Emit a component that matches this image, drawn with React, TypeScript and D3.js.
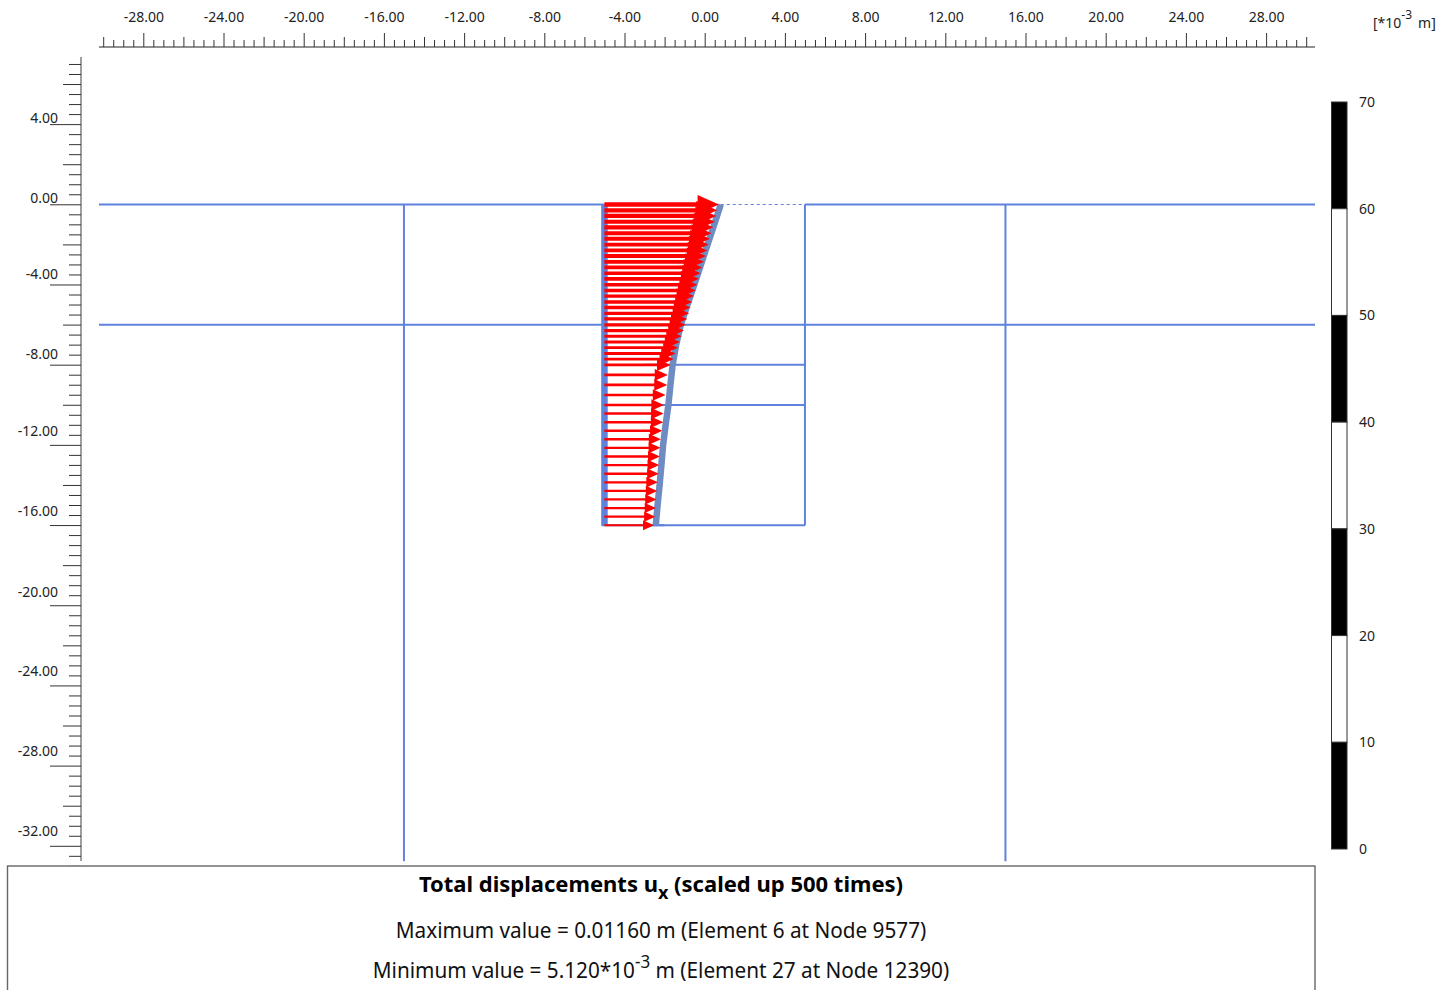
import React from "react";
import * as d3 from "d3";

const topTickLabels = [-28, -24, -20, -16, -12, -8, -4, 0, 4, 8, 12, 16, 20, 24, 28];
const leftTickLabels = [4, 0, -4, -8, -12, -16, -20, -24, -28, -32];
const leftLabelLift = [7, 7, 11, 11, 14, 15, 14, 15, 15, 15];
const legendValues = [70, 60, 50, 40, 30, 20, 10, 0];

const arrowDepth = [
  0, -0.29, -0.57, -0.86, -1.14, -1.43, -1.71, -2.0, -2.29, -2.57, -2.86, -3.14, -3.43, -3.71, -4.0,
  -4.29, -4.57, -4.86, -5.14, -5.43, -5.71, -6.0, -6.29, -6.57, -6.86, -7.14, -7.43, -7.71, -8.0,
  -8.5, -9.0, -9.5, -10.0, -10.43, -10.86, -11.29, -11.71, -12.14, -12.57, -13.0, -13.43, -13.86,
  -14.29, -14.71, -15.14, -15.57, -16.0,
];
const arrowUx = [
  11.37, 11.2, 11.1, 10.97, 10.8, 10.64, 10.47, 10.34, 10.2, 10.07, 9.87, 9.71, 9.54, 9.38, 9.21,
  9.04, 8.87, 8.71, 8.54, 8.41, 8.21, 8.05, 7.88, 7.65, 7.48, 7.28, 7.05, 6.85, 6.55,
  6.28, 6.22, 6.05, 5.88, 5.85, 5.82, 5.72, 5.58, 5.55, 5.48, 5.42, 5.38, 5.28, 5.22, 5.15, 5.09, 5.02, 4.89,
];
const wallDepth = [0, -1, -2, -3, -4, -5, -6, -7, -8, -9, -10, -11, -12, -13, -14, -15, -16];
const wallUx = [11.6, 10.95, 10.28, 9.62, 8.96, 8.28, 7.62, 7.15, 6.8, 6.58, 6.38, 6.1, 5.85, 5.68, 5.5, 5.3, 5.12];

const layerDepths = [0, -6];
const strutDepths = [-8, -10, -16];
const boundaryX = [-15, 15];
const wallX = [-5, 5];
const wallToe = -16;
const scaleUp = 0.5; // 10^-3 m × 500, in metres of drawing

const FONT = "'Noto Sans', 'DejaVu Sans', sans-serif";
const BLUE = "#5f82dc";

export default function App() {
  const x = d3.scaleLinear().domain([-30, 30]).range([103.7, 1306.7]);
  const y = d3.scaleLinear().domain([0, -32]).range([204.8, 846.3]);
  const legend = d3.scaleLinear().domain([0, 70]).range([849, 102]);

  const wallPath = d3
    .line<number>()
    .x((u) => x(wallX[0] + u * scaleUp))
    .y((_, i) => y(wallDepth[i]))(wallUx) as string;

  const xTicks = d3.range(-30, 30.01, 0.5);
  const yTicks = d3.range(7, -33.01, -0.5);
  const gridTop = y(0);
  const gridBottom = 861.5;
  const x0 = x(wallX[0]) - 0.6;

  const arrows = arrowUx.map((u, i) => {
    const tip = x(wallX[0] + u * scaleUp);
    const len = tip - x0;
    const py = y(arrowDepth[i]) - 0.3;
    const headLen = 3 + len * 0.16;
    const headHalf = 1.5 + len * 0.07;
    const shaftHalf = 0.3 + len * 0.016;
    const d = [
      [x0, py - shaftHalf],
      [tip - headLen, py - shaftHalf],
      [tip - headLen, py - headHalf],
      [tip, py],
      [tip - headLen, py + headHalf],
      [tip - headLen, py + shaftHalf],
      [x0, py + shaftHalf],
    ];
    return d3.line()(d as [number, number][]) + "Z";
  });

  const legendBands = legendValues.slice(0, -1).map((v, i) => ({
    top: v,
    bottom: legendValues[i + 1],
    fill: i % 2 === 0 ? "#000" : "#fff",
  }));

  return (
    <svg
      width={1443}
      height={990}
      style={{ position: "absolute", left: 0, top: 0, display: "block", fontFamily: FONT }}
    >
      <rect width={1443} height={990} fill="#fff" />

      {/* top axis */}
      <line x1={99} x2={1315} y1={47} y2={47} stroke="#222" strokeWidth={1.2} />
      {xTicks.map((t) => {
        const k = Math.round(t * 2);
        const h = k % 8 === 0 ? 14 : k % 4 === 0 ? 10 : 7;
        return <line key={t} x1={x(t)} x2={x(t)} y1={47} y2={47 - h} stroke="#333" strokeWidth={1} />;
      })}
      {topTickLabels.map((t) => (
        <text key={t} x={x(t)} y={22} fontSize={14} textAnchor="middle" fill="#222">
          {t.toFixed(2)}
        </text>
      ))}

      {/* left axis */}
      <line x1={81} x2={81} y1={57} y2={861} stroke="#777" strokeWidth={1.4} />
      {yTicks.map((t) => {
        const k = Math.round(t * 2);
        const w = k % 8 === 0 ? 31 : k % 4 === 0 ? 18 : 12;
        return <line key={t} x1={81} x2={81 - w} y1={y(t)} y2={y(t)} stroke="#333" strokeWidth={1} />;
      })}
      {leftTickLabels.map((t, i) => (
        <text key={t} x={58} y={y(t) - leftLabelLift[i] + 5} fontSize={14} textAnchor="end" fill="#222">
          {t.toFixed(2)}
        </text>
      ))}

      {/* geometry */}
      <g transform="translate(-0.5,-0.3)">
        {layerDepths.map((d) =>
          d === 0 ? (
            <g key={d} stroke={BLUE} strokeWidth={2}>
              <line x1={99.5} x2={x(wallX[0])} y1={y(d)} y2={y(d)} />
              <line x1={x(wallX[1])} x2={1315.5} y1={y(d)} y2={y(d)} />
            </g>
          ) : (
            <line key={d} x1={99.5} x2={1315.5} y1={y(d)} y2={y(d)} stroke={BLUE} strokeWidth={2} />
          )
        )}
        <line
          x1={x(wallX[0] + wallUx[0] * scaleUp)}
          x2={x(wallX[1])}
          y1={y(0)}
          y2={y(0)}
          stroke={BLUE}
          strokeWidth={1.2}
          strokeDasharray="3 3"
        />
        {boundaryX.map((b) => (
          <line key={b} x1={x(b)} x2={x(b)} y1={gridTop} y2={gridBottom} stroke={BLUE} strokeWidth={2} />
        ))}
        <line x1={x(wallX[1])} x2={x(wallX[1])} y1={gridTop} y2={y(wallToe)} stroke={BLUE} strokeWidth={2} />
        {strutDepths.map((d) => (
          <line key={d} x1={x(wallX[0]) + 40} x2={x(wallX[1])} y1={y(d)} y2={y(d)} stroke={BLUE} strokeWidth={2} />
        ))}
        <line x1={x(wallX[0]) - 3} x2={x(wallX[0]) + 60} y1={y(wallToe)} y2={y(wallToe)} stroke={BLUE} strokeWidth={2} />
        <line x1={x(wallX[0])} x2={x(wallX[0])} y1={gridTop} y2={y(wallToe)} stroke={BLUE} strokeWidth={6.5} />
        <path d={wallPath} fill="none" stroke="#6e8cc2" strokeWidth={6.5} />
      </g>

      {/* arrows */}
      {arrows.map((d, i) => (
        <path key={i} d={d} fill="#ff0000" />
      ))}

      {/* legend */}
      {legendBands.map((b) => (
        <rect
          key={b.top}
          x={1331.5}
          y={legend(b.top)}
          width={15.5}
          height={legend(b.bottom) - legend(b.top)}
          fill={b.fill}
          stroke="#333"
          strokeWidth={1}
        />
      ))}
      {legendValues.map((v) => (
        <text key={v} x={1359} y={legend(v) + 5} fontSize={14} fill="#222">
          {v}
        </text>
      ))}
      <text x={1373} y={28} fontSize={14} fill="#222">
        [*10
        <tspan dy={-9} fontSize={12}>
          -3
        </tspan>
        <tspan dy={9} dx={6}>
          m]
        </tspan>
      </text>

      {/* caption */}
      <rect x={7.5} y={866} width={1307.5} height={140} fill="#fff" stroke="#666" strokeWidth={1.4} />
      <text x={661} y={892} fontSize={22} fontWeight="bold" textAnchor="middle" fill="#000">
        Total displacements u
        <tspan dy={7} fontSize={18}>
          x
        </tspan>
        <tspan dy={-7}> (scaled up 500 times)</tspan>
      </text>
      <g transform="translate(661,0) scale(0.943,1)">
        <text x={0} y={938} fontSize={22} textAnchor="middle" fill="#111">
          Maximum value = 0.01160 m (Element 6 at Node 9577)
        </text>
        <text x={0} y={978} fontSize={22} textAnchor="middle" fill="#111">
          Minimum value = 5.120*10
          <tspan dy={-10} fontSize={18}>
            -3
          </tspan>
          <tspan dy={10}> m (Element 27 at Node 12390)</tspan>
        </text>
      </g>
    </svg>
  );
}
